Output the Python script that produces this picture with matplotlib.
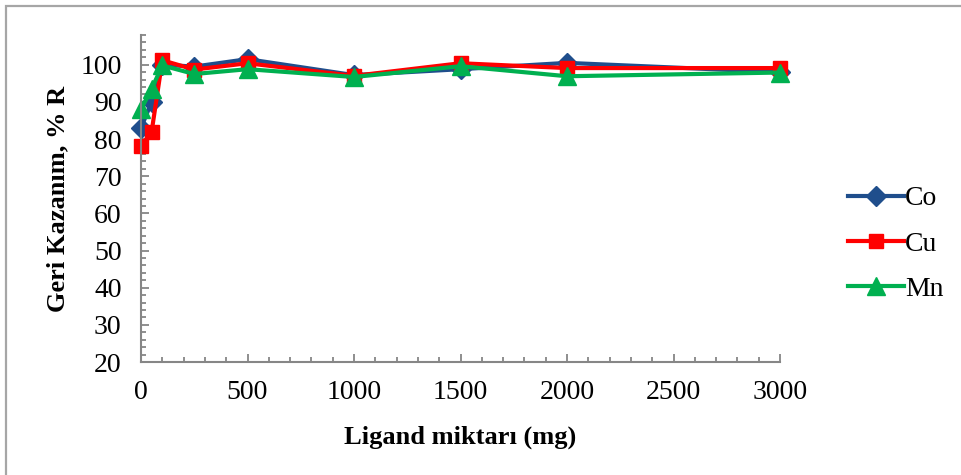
import numpy as np
import matplotlib.pyplot as plt
from matplotlib.patches import Rectangle
from matplotlib.ticker import MultipleLocator

# Data
ligand_mg = [0, 50, 100, 250, 500, 1000, 1500, 2000, 3000]
co_values = [83, 90, 100, 99.5, 101.5, 97.2, 98.8, 100.5, 98]
cu_values = [78, 82, 101.2, 98.7, 100.4, 97, 100.4, 99.1, 99.1]
mn_values = [88, 93.5, 99.8, 97.5, 98.8, 96.7, 99.6, 96.9, 97.9]

series_names = ['Co', 'Cu', 'Mn']

plt.rcParams['font.family'] = ['Liberation Serif', 'DejaVu Serif']

fig = plt.figure(figsize=(9.61, 4.75), dpi=100)
ax = fig.add_axes([141 / 961, 1 - 362 / 475, 639 / 961, 327 / 475])

# outer chart border (only left/top visible in the crop)
fig.patches.append(Rectangle((6 / 961, -0.1), 1.2, 1.1 - 6 / 475,
                             transform=fig.transFigure, fill=False,
                             edgecolor='#a6a6a6', linewidth=1.6))

ax.plot(ligand_mg, co_values, color='#1f4e8c', lw=3, marker='D', ms=10.5,
        label=series_names[0])
ax.plot(ligand_mg, cu_values, color='#ff0000', lw=3, marker='s', ms=10.5,
        label=series_names[1])
ax.plot(ligand_mg, mn_values, color='#00b050', lw=3, marker='^', ms=12.5,
        label=series_names[2])

ax.set_xlim(0, 3000)
ax.set_ylim(20, 108)
ax.xaxis.set_major_locator(MultipleLocator(500))
ax.xaxis.set_minor_locator(MultipleLocator(100))
ax.set_yticks(np.arange(20, 101, 10))
ax.yaxis.set_minor_locator(MultipleLocator(2))

for side in ['top', 'right']:
    ax.spines[side].set_visible(False)
for side in ['left', 'bottom']:
    ax.spines[side].set_color('#868686')
    ax.spines[side].set_linewidth(1.5)

ax.tick_params(which='both', direction='in', color='#868686', width=1.3,
               labelsize=20, labelcolor='black')
ax.tick_params(which='major', length=6)
ax.tick_params(which='minor', length=3.5)
ax.tick_params(axis='x', which='major', pad=13)
ax.tick_params(axis='y', which='major', pad=14)

ax.set_xlabel('Ligand miktarı (mg)', fontsize=19, fontweight='bold', labelpad=15)
ax.set_ylabel('Geri Kazanım, % R', fontsize=19, fontweight='bold', labelpad=8)

for artist in ax.lines:
    artist.set_clip_on(False)

fig.legend(loc='center left', bbox_to_anchor=(823 / 961, 1 - 244 / 475),
           frameon=False, fontsize=20, handlelength=2.0, handletextpad=0.05,
           labelspacing=0.72)

fig.savefig('out.png', dpi=100)
